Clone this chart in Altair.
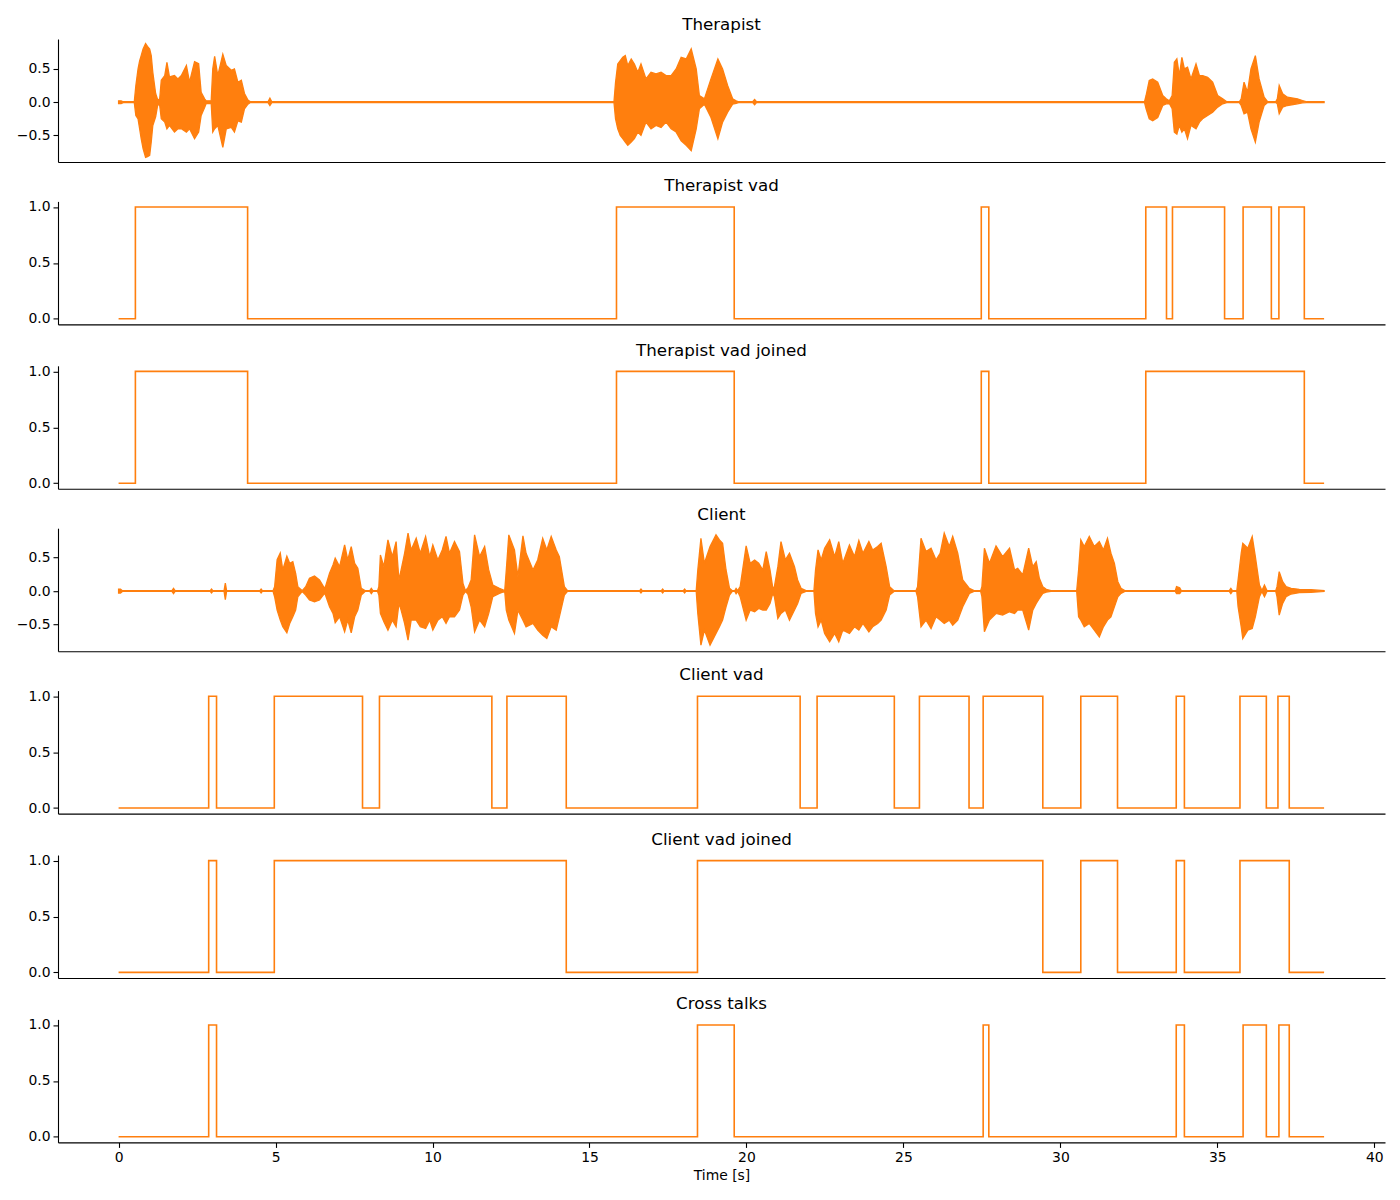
import altair as alt
import pandas as pd

ORANGE = "#ff7f0e"
FONT = "DejaVu Sans"
X_MIN, X_MAX = -1.93, 40.34
END_T = 38.4
XTICKS = [0, 5, 10, 15, 20, 25, 30, 35, 40]
W, H = 1327, 123

# waveform envelopes: (time s, upper amplitude, lower amplitude)
therapist_wave = [
    (0.00, 0.02, -0.02), (0.08, 0.02, -0.02), (0.15, 0.006, -0.006),
    (0.50, 0.006, -0.006), (0.55, 0.25, -0.20), (0.62, 0.50, -0.25), (0.67, 0.62, -0.40),
    (0.72, 0.70, -0.55), (0.78, 0.80, -0.70), (0.86, 0.88, -0.83), (0.92, 0.84, -0.82),
    (0.99, 0.80, -0.80), (1.04, 0.70, -0.60), (1.09, 0.45, -0.35), (1.18, 0.13, -0.22),
    (1.25, 0.03, -0.03),
    (1.31, 0.05, -0.05), (1.36, 0.33, -0.25), (1.47, 0.40, -0.30), (1.54, 0.60, -0.40),
    (1.62, 0.38, -0.35), (1.78, 0.40, -0.45), (1.89, 0.35, -0.40), (2.00, 0.40, -0.40),
    (2.16, 0.55, -0.45), (2.26, 0.30, -0.40), (2.42, 0.61, -0.55), (2.55, 0.58, -0.45),
    (2.63, 0.15, -0.20), (2.74, 0.05, -0.08), (2.79, 0.02, -0.02),
    (2.95, 0.02, -0.02), (3.00, 0.50, -0.45), (3.06, 0.69, -0.40), (3.16, 0.40, -0.35),
    (3.32, 0.72, -0.68), (3.43, 0.55, -0.40), (3.59, 0.48, -0.38), (3.69, 0.50, -0.45),
    (3.80, 0.30, -0.28), (3.91, 0.33, -0.30), (4.01, 0.13, -0.10), (4.12, 0.03, -0.03),
    (4.20, 0.006, -0.006),
    (4.76, 0.006, -0.006), (4.82, 0.06, -0.05), (4.88, 0.006, -0.006),
    (15.78, 0.006, -0.006), (15.83, 0.30, -0.25), (15.90, 0.575, -0.40), (15.98, 0.625, -0.50),
    (16.06, 0.675, -0.55), (16.14, 0.70, -0.60), (16.22, 0.55, -0.65), (16.33, 0.65, -0.60),
    (16.43, 0.575, -0.55), (16.54, 0.45, -0.45), (16.64, 0.575, -0.50), (16.80, 0.35, -0.30),
    (16.96, 0.45, -0.40), (17.12, 0.425, -0.35), (17.28, 0.45, -0.38), (17.44, 0.40, -0.30),
    (17.60, 0.40, -0.40), (17.76, 0.50, -0.45), (17.92, 0.675, -0.58), (18.08, 0.65, -0.65),
    (18.24, 0.80, -0.73), (18.40, 0.50, -0.40), (18.50, 0.10, -0.10), (18.66, 0.05, -0.03),
    (18.87, 0.35, -0.23), (19.09, 0.65, -0.55), (19.24, 0.50, -0.30), (19.40, 0.25, -0.15),
    (19.56, 0.05, -0.03), (19.67, 0.02, -0.02), (19.75, 0.006, -0.006),
    (20.20, 0.006, -0.006), (20.26, 0.04, -0.04), (20.32, 0.006, -0.006),
    (32.68, 0.006, -0.006), (32.73, 0.10, -0.10), (32.83, 0.325, -0.25), (32.94, 0.35, -0.28),
    (33.10, 0.30, -0.23), (33.26, 0.10, -0.05), (33.37, 0.05, -0.025), (33.47, 0.02, -0.02),
    (33.56, 0.10, -0.10), (33.63, 0.60, -0.45), (33.71, 0.65, -0.48), (33.79, 0.40, -0.35),
    (33.87, 0.675, -0.45), (33.95, 0.50, -0.40), (34.05, 0.525, -0.55), (34.16, 0.35, -0.35),
    (34.32, 0.575, -0.40), (34.43, 0.40, -0.30), (34.53, 0.40, -0.25), (34.69, 0.375, -0.20),
    (34.85, 0.30, -0.15), (35.01, 0.10, -0.075), (35.17, 0.05, -0.025), (35.30, 0.006, -0.006),
    (35.70, 0.006, -0.006), (35.76, 0.05, -0.05), (35.85, 0.30, -0.175), (35.96, 0.15, -0.15),
    (36.07, 0.50, -0.40), (36.21, 0.70, -0.60), (36.33, 0.35, -0.30), (36.49, 0.075, -0.05),
    (36.60, 0.006, -0.006),
    (36.86, 0.006, -0.006), (36.91, 0.05, -0.025), (36.97, 0.25, -0.175), (37.08, 0.125, -0.075),
    (37.23, 0.075, -0.05), (37.55, 0.05, -0.025), (37.71, 0.025, -0.01), (37.85, 0.006, -0.006),
    (38.40, 0.006, -0.006),
]

client_wave = [
    (0.00, 0.03, -0.03), (0.06, 0.03, -0.03), (0.12, 0.006, -0.006),
    (1.70, 0.006, -0.006), (1.75, 0.04, -0.04), (1.80, 0.006, -0.006),
    (2.92, 0.006, -0.006), (2.96, 0.03, -0.03), (3.00, 0.006, -0.006),
    (3.36, 0.006, -0.006), (3.40, 0.12, -0.13), (3.44, 0.006, -0.006),
    (4.50, 0.006, -0.006), (4.54, 0.03, -0.03), (4.58, 0.006, -0.006),
    (4.92, 0.006, -0.006), (4.97, 0.065, -0.085), (5.05, 0.47, -0.285), (5.15, 0.57, -0.435),
    (5.23, 0.315, -0.535), (5.36, 0.52, -0.625), (5.45, 0.415, -0.485), (5.55, 0.44, -0.385),
    (5.64, 0.265, -0.285), (5.71, 0.065, -0.085), (5.85, 0.006, -0.006),
    (5.96, 0.065, -0.06), (6.08, 0.19, -0.135), (6.24, 0.225, -0.16), (6.40, 0.165, -0.135),
    (6.56, 0.04, -0.035),
    (6.59, 0.065, -0.06), (6.72, 0.265, -0.235), (6.83, 0.39, -0.335), (6.90, 0.49, -0.475),
    (7.04, 0.365, -0.385), (7.20, 0.69, -0.61), (7.30, 0.465, -0.435), (7.41, 0.665, -0.625),
    (7.52, 0.415, -0.385), (7.62, 0.34, -0.285), (7.73, 0.04, -0.06), (7.85, 0.006, -0.006),
    (8.00, 0.006, -0.006), (8.05, 0.04, -0.04), (8.10, 0.006, -0.006),
    (8.25, 0.006, -0.006), (8.29, 0.065, -0.06), (8.34, 0.54, -0.335), (8.45, 0.365, -0.46),
    (8.58, 0.765, -0.585), (8.72, 0.515, -0.435), (8.84, 0.74, -0.535), (8.93, 0.165, -0.185),
    (9.00, 0.315, -0.285), (9.11, 0.565, -0.485), (9.22, 0.866, -0.735), (9.32, 0.615, -0.435),
    (9.48, 0.79, -0.435), (9.61, 0.565, -0.535), (9.78, 0.816, -0.56), (9.91, 0.515, -0.435),
    (10.01, 0.69, -0.585), (10.17, 0.465, -0.435), (10.31, 0.615, -0.385), (10.43, 0.816, -0.485),
    (10.54, 0.565, -0.385), (10.70, 0.74, -0.385), (10.86, 0.59, -0.285), (10.97, 0.115, -0.06),
    (11.05, 0.006, -0.006), (11.13, 0.05, -0.05),
    (11.23, 0.165, -0.235), (11.34, 0.84, -0.61), (11.50, 0.515, -0.435), (11.66, 0.665, -0.535),
    (11.79, 0.315, -0.335), (11.92, 0.09, -0.085), (12.13, 0.04, -0.035), (12.30, 0.006, -0.006),
    (12.35, 0.315, -0.285), (12.43, 0.84, -0.435), (12.61, 0.615, -0.635), (12.72, 0.215, -0.285),
    (12.88, 0.825, -0.435), (12.98, 0.565, -0.535), (13.20, 0.315, -0.485), (13.35, 0.465, -0.585),
    (13.51, 0.79, -0.66), (13.64, 0.615, -0.71), (13.78, 0.816, -0.535), (13.94, 0.615, -0.585),
    (14.04, 0.515, -0.385), (14.20, 0.065, -0.06), (14.30, 0.006, -0.006),
    (16.60, 0.006, -0.006), (16.64, 0.03, -0.03), (16.68, 0.006, -0.006),
    (17.29, 0.006, -0.006), (17.33, 0.03, -0.03), (17.37, 0.006, -0.006),
    (17.99, 0.006, -0.006), (18.03, 0.03, -0.03), (18.07, 0.006, -0.006),
    (18.40, 0.006, -0.006), (18.45, 0.315, -0.335), (18.55, 0.79, -0.81), (18.66, 0.415, -0.585),
    (18.84, 0.665, -0.81), (19.03, 0.84, -0.635), (19.14, 0.765, -0.535), (19.24, 0.715, -0.435),
    (19.35, 0.315, -0.235), (19.46, 0.04, -0.06), (19.55, 0.006, -0.006),
    (19.63, 0.006, -0.006), (19.67, 0.04, -0.04), (19.72, 0.006, -0.006),
    (19.80, 0.065, -0.085), (19.99, 0.675, -0.435), (20.12, 0.415, -0.285), (20.26, 0.465, -0.31),
    (20.39, 0.415, -0.26), (20.52, 0.315, -0.285), (20.63, 0.59, -0.285), (20.75, 0.315, -0.185),
    (20.84, 0.04, -0.035),
    (20.89, 0.065, -0.085), (21.00, 0.365, -0.41), (21.10, 0.74, -0.335), (21.24, 0.465, -0.285),
    (21.37, 0.565, -0.435), (21.53, 0.365, -0.285), (21.63, 0.165, -0.185), (21.74, 0.04, -0.035),
    (21.90, 0.006, -0.006),
    (22.15, 0.006, -0.006), (22.20, 0.315, -0.335), (22.28, 0.615, -0.535), (22.38, 0.465, -0.435),
    (22.49, 0.64, -0.635), (22.65, 0.765, -0.76), (22.81, 0.515, -0.635), (22.94, 0.74, -0.76),
    (23.07, 0.415, -0.585), (23.28, 0.69, -0.635), (23.44, 0.515, -0.535), (23.58, 0.755, -0.585),
    (23.71, 0.565, -0.485), (23.90, 0.74, -0.61), (24.02, 0.615, -0.535), (24.18, 0.665, -0.485),
    (24.29, 0.715, -0.435), (24.45, 0.365, -0.285), (24.56, 0.065, -0.06), (24.70, 0.006, -0.006),
    (25.40, 0.006, -0.006), (25.45, 0.065, -0.085), (25.56, 0.79, -0.535), (25.72, 0.59, -0.435),
    (25.88, 0.64, -0.56), (26.04, 0.465, -0.385), (26.17, 0.565, -0.435), (26.30, 0.866, -0.485),
    (26.46, 0.665, -0.435), (26.57, 0.816, -0.51), (26.73, 0.565, -0.435), (26.89, 0.165, -0.235),
    (27.10, 0.04, -0.035), (27.25, 0.006, -0.006),
    (27.46, 0.006, -0.006), (27.50, 0.065, -0.085), (27.58, 0.64, -0.61), (27.74, 0.415, -0.435),
    (27.95, 0.675, -0.335), (28.16, 0.515, -0.36), (28.38, 0.64, -0.31), (28.54, 0.315, -0.335),
    (28.64, 0.34, -0.285), (28.80, 0.24, -0.285), (28.99, 0.64, -0.585), (29.12, 0.365, -0.285),
    (29.23, 0.44, -0.185), (29.33, 0.19, -0.11), (29.44, 0.065, -0.035), (29.55, 0.025, -0.015),
    (29.70, 0.006, -0.006),
    (30.52, 0.006, -0.006), (30.58, 0.315, -0.385), (30.65, 0.765, -0.435), (30.76, 0.665, -0.535),
    (30.92, 0.816, -0.485), (31.08, 0.665, -0.585), (31.24, 0.74, -0.685), (31.37, 0.615, -0.535),
    (31.50, 0.79, -0.435), (31.61, 0.565, -0.385), (31.72, 0.415, -0.235), (31.83, 0.14, -0.085),
    (31.93, 0.04, -0.035), (32.05, 0.006, -0.006),
    (33.66, 0.006, -0.006), (33.70, 0.065, -0.04), (33.80, 0.05, -0.04), (33.85, 0.006, -0.006),
    (35.38, 0.006, -0.006), (35.43, 0.04, -0.04), (35.48, 0.006, -0.006),
    (35.62, 0.006, -0.006), (35.66, 0.165, -0.235), (35.76, 0.565, -0.535), (35.81, 0.715, -0.71),
    (35.97, 0.64, -0.585), (36.11, 0.816, -0.56), (36.21, 0.515, -0.385), (36.34, 0.09, -0.085),
    (36.42, 0.006, -0.006), (36.50, 0.09, -0.085), (36.58, 0.006, -0.006),
    (36.86, 0.006, -0.006), (36.90, 0.065, -0.085), (36.97, 0.29, -0.36), (37.08, 0.14, -0.185),
    (37.19, 0.065, -0.085), (37.35, 0.04, -0.045), (37.61, 0.025, -0.025), (37.98, 0.02, -0.02),
    (38.40, 0.006, -0.006),
]

# voice activity segments: (start s, end s)
therapist_vad = [(0.535, 4.11), (15.86, 19.61), (27.48, 27.72), (32.72, 33.38),
                 (33.57, 35.23), (35.82, 36.72), (36.96, 37.77)]
therapist_vad_joined = [(0.535, 4.11), (15.86, 19.61), (27.48, 27.72), (32.72, 37.77)]
client_vad = [(2.87, 3.12), (4.96, 7.77), (8.31, 11.89), (12.37, 14.26), (18.44, 21.71),
              (22.25, 24.71), (25.51, 27.09), (27.54, 29.44), (30.65, 31.82), (33.69, 33.95),
              (35.72, 36.56), (36.93, 37.29)]
client_vad_joined = [(2.87, 3.12), (4.96, 14.26), (18.44, 29.44), (30.65, 31.82),
                     (33.69, 33.95), (35.72, 37.29)]
cross_talks = [(2.87, 3.12), (18.44, 19.61), (27.54, 27.72), (33.69, 33.95),
               (35.82, 36.56), (36.96, 37.29)]

WAVE_TICKS = [-0.5, 0.0, 0.5]
VAD_TICKS = [0.0, 0.5, 1.0]


def x_enc(bottom):
    if bottom:
        ax = alt.Axis(values=XTICKS, format="d", title="Time [s]", grid=False, tickSize=5,
                      labelFontSize=13.9, titleFontSize=13.9, titleFontWeight="normal",
                      labelPadding=3, titlePadding=4)
    else:
        ax = alt.Axis(labels=False, ticks=False, title=None, grid=False)
    return alt.X("t:Q", scale=alt.Scale(domain=[X_MIN, X_MAX], nice=False, zero=False), axis=ax)


def y_axis(vals):
    return alt.Axis(values=vals, format=".1f", title=None, grid=False, tickSize=5,
                    labelFontSize=13.9, labelPadding=3)


def title(text):
    return alt.TitleParams(text=text, fontSize=16.7, fontWeight="normal", offset=5,
                           anchor="middle", font=FONT, color="black")


def wave_panel(env, name, ydom, bottom=False):
    df = pd.DataFrame(env, columns=["t", "hi", "lo"])
    return alt.Chart(df).mark_area(color=ORANGE, stroke=ORANGE, strokeWidth=1.3,
                                   opacity=1).encode(
        x=x_enc(bottom),
        y=alt.Y("hi:Q", scale=alt.Scale(domain=ydom, nice=False, zero=False),
                axis=y_axis(WAVE_TICKS)),
        y2=alt.Y2("lo:Q"),
    ).properties(width=W, height=H, title=title(name))


def vad_panel(segs, name, bottom=False):
    pts = [(0.0, 0)]
    for a, b in segs:
        pts += [(a, 0), (a, 1), (b, 1), (b, 0)]
    pts.append((END_T, 0))
    df = pd.DataFrame(pts, columns=["t", "v"])
    df["i"] = range(len(df))
    return alt.Chart(df).mark_line(color=ORANGE, strokeWidth=1.6).encode(
        x=x_enc(bottom),
        y=alt.Y("v:Q", scale=alt.Scale(domain=[-0.05, 1.05], nice=False, zero=False),
                axis=y_axis(VAD_TICKS)),
        order=alt.Order("i:Q"),
    ).properties(width=W, height=H, title=title(name))


chart = alt.vconcat(
    wave_panel(therapist_wave, "Therapist", [-0.90, 0.95]),
    vad_panel(therapist_vad, "Therapist vad"),
    vad_panel(therapist_vad_joined, "Therapist vad joined"),
    wave_panel(client_wave, "Client", [-0.90, 0.94]),
    vad_panel(client_vad, "Client vad"),
    vad_panel(client_vad_joined, "Client vad joined"),
    vad_panel(cross_talks, "Cross talks", bottom=True),
    spacing=15.4,
).properties(
    padding={"left": 16, "top": 17, "right": 14, "bottom": 10},
    background="white",
).configure_axis(
    domainColor="black", tickColor="black", labelColor="black", titleColor="black",
    labelFont=FONT, titleFont=FONT, domainWidth=1.1, tickWidth=1.1,
).configure_title(font=FONT, color="black").configure_view(stroke=None)

chart.save("out.html", embed_options={"renderer": "svg", "actions": False})
